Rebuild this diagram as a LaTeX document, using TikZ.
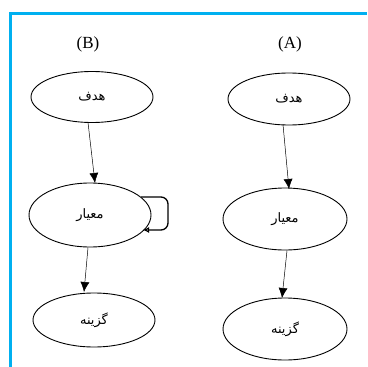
\documentclass[tikz,border=0pt]{standalone}
\usepackage{fontspec}
\setmainfont{Liberation Serif}
\newfontfamily\arabicfont[Script=Arabic]{DejaVu Sans}
\TeXXeTstate=1
\usetikzlibrary{shapes.geometric,arrows.meta}
\definecolor{frameblue}{RGB}{0,176,240}
\begin{document}
\begin{tikzpicture}[x=1pt,y=-1pt,
  ell/.style={draw,ellipse,line width=0.9pt,inner sep=0pt},
  lbl/.style={font=\fontsize{17}{19}\selectfont},
  fa/.style={font=\arabicfont\fontsize{13}{15}\selectfont},
  conn/.style={draw,line width=0.5pt,-{Latex[length=10pt,width=9pt]}}]
\useasboundingbox (0,0) rectangle (367,367);
\draw[frameblue,line width=2.5pt] (10.5,367) -- (10.5,13.5) -- (367,13.5);
\node[lbl] (lb) at (88,44) {(B)};
\node[lbl] (la) at (290,44) {(A)};
% B column
\node[ell,minimum width=122pt,minimum height=51pt] (bh) at (92,97) {};
\node[fa] at (bh) {\beginR هدف\endR};
\node[ell,minimum width=122pt,minimum height=64pt] (bm) at (90,215) {};
\node[fa] at (bm) {\beginR معیار\endR};
\node[ell,minimum width=122pt,minimum height=54pt] (bg) at (94,320) {};
\node[fa] at (bg) {\beginR گزینه\endR};
% A column
\node[ell,minimum width=122pt,minimum height=52pt] (ah) at (289,99) {};
\node[fa] at (ah) {\beginR هدف\endR};
\node[ell,minimum width=124pt,minimum height=62pt] (am) at (285,219) {};
\node[fa] at (am) {\beginR معیار\endR};
\node[ell,minimum width=124pt,minimum height=62pt] (ag) at (285,329) {};
\node[fa] at (ag) {\beginR گزینه\endR};
% connectors
\coordinate (bh1) at (88,122.5);
\coordinate (bm1) at (95,183);
\draw[conn] (bh1) -- (bm1);
\coordinate (bm2) at (88,247.5);
\coordinate (bg1) at (84,292);
\draw[conn] (bm2) -- (bg1);
\coordinate (ah1) at (283,124.5);
\coordinate (am1) at (289,189);
\draw[conn] (ah1) -- (am1);
\coordinate (am2) at (287,250.5);
\coordinate (ag1) at (282,298);
\draw[conn] (am2) -- (ag1);
% self loop
\coordinate (s1) at (141,197);
\coordinate (s2) at (143,230);
\draw[line width=1.3pt,rounded corners=7pt,-{Latex[length=6pt,width=6pt,open]}] (s1) -- (168,197) -- (168,230) -- (s2);
\end{tikzpicture}
\end{document}
